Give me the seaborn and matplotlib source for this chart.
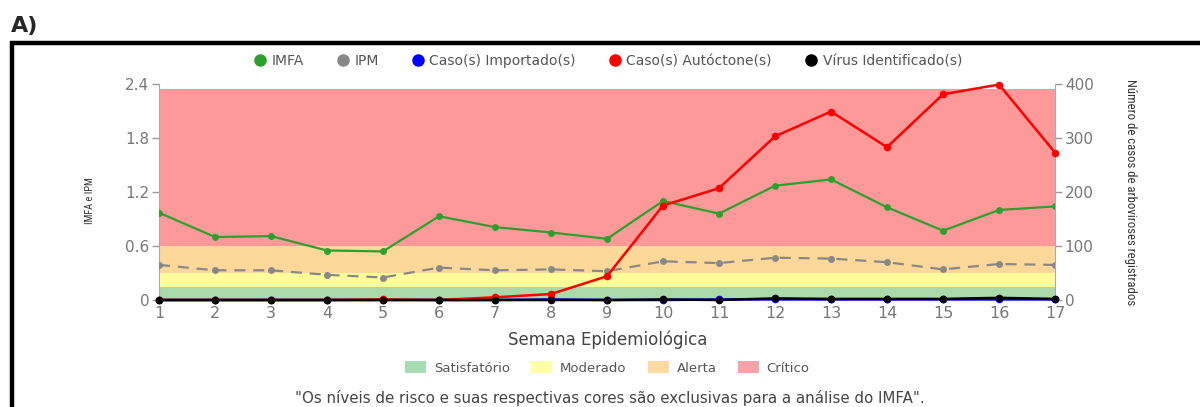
import matplotlib
matplotlib.use("Agg")
import matplotlib.pyplot as plt
from matplotlib.lines import Line2D
from matplotlib.patches import Patch
from matplotlib import font_manager
import seaborn as sns
import pandas as pd

# Epidemiological weeks
semanas = list(range(1, 18))

# Left axis indices
imfa = [0.97, 0.70, 0.71, 0.55, 0.54, 0.93, 0.81, 0.75, 0.68,
        1.10, 0.96, 1.27, 1.34, 1.03, 0.77, 1.00, 1.04]
ipm = [0.39, 0.33, 0.33, 0.28, 0.25, 0.36, 0.33, 0.34, 0.32,
       0.43, 0.41, 0.47, 0.46, 0.42, 0.34, 0.40, 0.39]

# Right axis case counts
importados = [0, 0, 0, 0, 0, 0, 0, 1, 0, 0, 1, 1, 1, 1, 1, 1, 1]
autoctones = [0, 0, 0, 0, 1, 0, 5, 11, 44, 175, 207, 303, 349, 283, 381, 399, 273]
virus = [0, 0, 0, 0, 0, 0, 0, 0, 0, 1, 0, 3, 2, 2, 2, 4, 2]

# Risk levels for the IMFA (lower, upper, fill colour, legend colour)
niveis = ["Satisfatório", "Moderado", "Alerta", "Crítico"]
limites = [(0.0, 0.15), (0.15, 0.30), (0.30, 0.60), (0.60, 2.34)]
cores_faixa = ["#aad9aa", "#ffff99", "#fed899", "#fe9999"]
cores_legenda = ["#a6dcb1", "#ffffa8", "#fcd9a0", "#f4a3a8"]

series_esq = [("IMFA", imfa, "#2ca02c", "-"), ("IPM", ipm, "#888888", "--")]
series_dir = [("Caso(s) Importado(s)", importados, "#0000ff"),
              ("Caso(s) Autóctone(s)", autoctones, "#ff0000"),
              ("Vírus Identificado(s)", virus, "#000000")]

sns.set_style("white")
plt.rcParams["font.family"] = ["DejaVu Sans"]

# Narrow face for the vertical axis titles
installed = {f.name for f in font_manager.fontManager.ttflist}
narrow = [f for f in ["Roboto Condensed", "Liberation Sans Narrow",
                      "Arial Narrow", "Roboto"] if f in installed]
narrow = narrow[:1] + ["DejaVu Sans"]
is_condensed = narrow[0] in ("Roboto Condensed", "Liberation Sans Narrow",
                             "Arial Narrow")

fig = plt.figure(figsize=(12, 4.07), dpi=100)
ax = fig.add_axes([0.1325, 0.2629, 0.7467, 0.5307])
ax2 = ax.twinx()

# Risk bands
for (lo, hi), c in zip(limites, cores_faixa):
    ax.axhspan(lo, hi, color=c, lw=0, zorder=0)

for nome, vals, cor, ls in series_esq:
    df = pd.DataFrame({"semana": semanas, "valor": vals})
    sns.lineplot(data=df, x="semana", y="valor", ax=ax, color=cor,
                 marker="o", markersize=5, markeredgewidth=0,
                 linewidth=1.6, zorder=3)
ax.lines[1].set_dashes((5, 3.5))

for nome, vals, cor in series_dir:
    df = pd.DataFrame({"semana": semanas, "valor": vals})
    sns.lineplot(data=df, x="semana", y="valor", ax=ax2, color=cor,
                 marker="o", markersize=5.5, markeredgewidth=0,
                 linewidth=1.8, zorder=4, clip_on=False)

ax.set_xlim(1, 17)
ax.set_ylim(0, 2.4)
ax2.set_ylim(0, 400)
ax.set_xticks(semanas)
ax.set_yticks([0, 0.6, 1.2, 1.8, 2.4])
ax.set_yticklabels(["0", "0.6", "1.2", "1.8", "2.4"])
ax2.set_yticks([0, 100, 200, 300, 400])

for a in (ax, ax2):
    for s in a.spines.values():
        s.set_visible(False)
    a.tick_params(colors="#999999", labelcolor="#777777", length=5, width=1)
ax.spines["left"].set_visible(True)
ax.spines["left"].set_color("#aaaaaa")
ax2.spines["right"].set_visible(True)
ax2.spines["right"].set_color("#aaaaaa")
ax.tick_params(axis="x", labelsize=11.5, length=3, pad=1)
ax.tick_params(axis="y", labelsize=11, pad=2)
ax2.tick_params(axis="y", labelsize=11, pad=2)
ax.grid(False)
ax2.grid(False)

ax.set_xlabel("Semana Epidemiológica", fontsize=12, color="#444444")
ax.xaxis.set_label_coords(0.501, -0.139)
ax.set_ylabel("IMFA e IPM", fontsize=7.5 if is_condensed else 7,
              color="#333333", family=narrow)
ax.yaxis.set_label_coords(-0.0714, 0.46)
ax2.set_ylabel("Número de casos de arboviroses registrados",
               fontsize=9.2 if is_condensed else 8.5,
               color="#333333", family=narrow, rotation=270, va="center")
ax2.yaxis.set_label_coords(1.0837, 0.5)

# Series legend
handles = [Line2D([], [], marker="o", ls="none", color=c, markersize=8)
           for _, _, c, _ in series_esq]
handles += [Line2D([], [], marker="o", ls="none", color=c, markersize=8)
            for _, _, c in series_dir]
labels = [n for n, *_ in series_esq] + [n for n, *_ in series_dir]
fig.legend(handles, labels, loc="center", bbox_to_anchor=(0.506, 0.85),
           ncol=5, frameon=False, fontsize=10, labelcolor="#555555",
           handletextpad=0.25, columnspacing=2.3, handlelength=1.1)

# Risk level legend
patches = [Patch(facecolor=c, edgecolor="none") for c in cores_legenda]
fig.legend(patches, niveis, loc="center", bbox_to_anchor=(0.506, 0.096),
           ncol=4, frameon=False, fontsize=9.5, labelcolor="#555555",
           handlelength=1.6, handleheight=1.0, handletextpad=0.6,
           columnspacing=1.6)

fig.text(0.508, 0.022,
         '"Os níveis de risco e suas respectivas cores são exclusivas para a análise do IMFA".',
         ha="center", va="center", fontsize=10.8, color="#444444")

# Panel label and frame
fig.text(0.009, 1 - 32 / 407, "A)", fontsize=16, fontweight="bold",
         ha="left", va="baseline")
fig.add_artist(Line2D([0.0104, 0.0104, 1.0], [0.0, 0.8955, 0.8955],
                      transform=fig.transFigure, color="black", lw=3.2,
                      solid_joinstyle="miter"))

fig.savefig("out.png", dpi=100)
